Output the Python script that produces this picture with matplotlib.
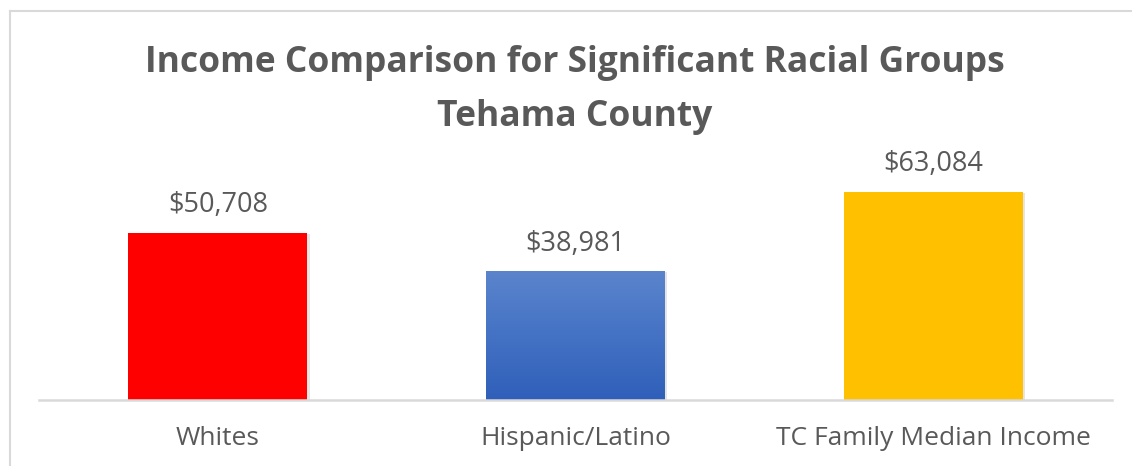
import numpy as np
import matplotlib
matplotlib.use("Agg")
import matplotlib.pyplot as plt
from matplotlib.lines import Line2D
from matplotlib.colors import LinearSegmentedColormap

categories = ["Whites", "Hispanic/Latino", "TC Family Median Income"]
incomes = [50708, 38981, 63084]
title_lines = ["Income Comparison for Significant Racial Groups", "Tehama County"]

plt.rcParams['font.family'] = ['Open Sans', 'DejaVu Sans']
TEXT = "#595959"

W, H = 1132, 466
fig = plt.figure(figsize=(W / 100, H / 100), dpi=100)
ax = fig.add_axes([39 / W, 1 - 400 / H, (1112 - 39) / W, (400 - 169) / H])

x = np.arange(len(categories))
colors = ["#ff0000", "#4472c4", "#ffc000"]
bars = ax.bar(x, incomes, width=0.5, color=colors, zorder=3)

# soft shadow behind the bars
for b in bars:
    sh = plt.Rectangle((b.get_x() + 0.007, 0), b.get_width(), b.get_height() - 300,
                       color="#000000", alpha=0.10, zorder=2, lw=0)
    ax.add_patch(sh)

# blue bar gradient (lighter at top)
blue = bars[1]
cmap = LinearSegmentedColormap.from_list("g", ["#5b84cc", "#4472c4", "#2f5fb9"])
grad = np.linspace(0, 1, 256).reshape(-1, 1)
im = ax.imshow(grad, cmap=cmap, aspect="auto", zorder=4, origin="upper",
               extent=[blue.get_x(), blue.get_x() + blue.get_width(), 0, blue.get_height()])
im.set_clip_path(blue)

ax.set_xlim(-0.5, len(categories) - 0.5)
ax.set_ylim(0, 70000)

for xi, v in zip(x, incomes):
    ax.annotate(f"${v:,}", (xi, v), xytext=(0, 20), textcoords="offset points",
                ha="center", va="center", fontsize=19.5, color=TEXT)

for s in ["top", "right", "left"]:
    ax.spines[s].set_visible(False)
ax.spines["bottom"].set_color("#d9d9d9")
ax.spines["bottom"].set_linewidth(1.8)
ax.spines["bottom"].set_zorder(5)
ax.set_yticks([])
ax.set_xticks(x)
ax.set_xticklabels(categories, fontsize=19, color=TEXT)
ax.tick_params(axis="x", length=0, pad=19)

fig.text(575 / W, 1 - 72 / H, title_lines[0], ha="center", va="baseline",
         fontsize=25.5, fontweight="bold", color=TEXT)
fig.text(575 / W, 1 - 126 / H, title_lines[1], ha="center", va="baseline",
         fontsize=25.5, fontweight="bold", color=TEXT)

# chart area border (cut off at right and bottom)
fig.add_artist(Line2D([10 / W, 1], [1 - 11 / H, 1 - 11 / H], color="#d9d9d9", lw=1.5))
fig.add_artist(Line2D([10 / W, 10 / W], [0, 1 - 11 / H], color="#d9d9d9", lw=1.5))

fig.savefig("out.png", dpi=100, facecolor="white")
